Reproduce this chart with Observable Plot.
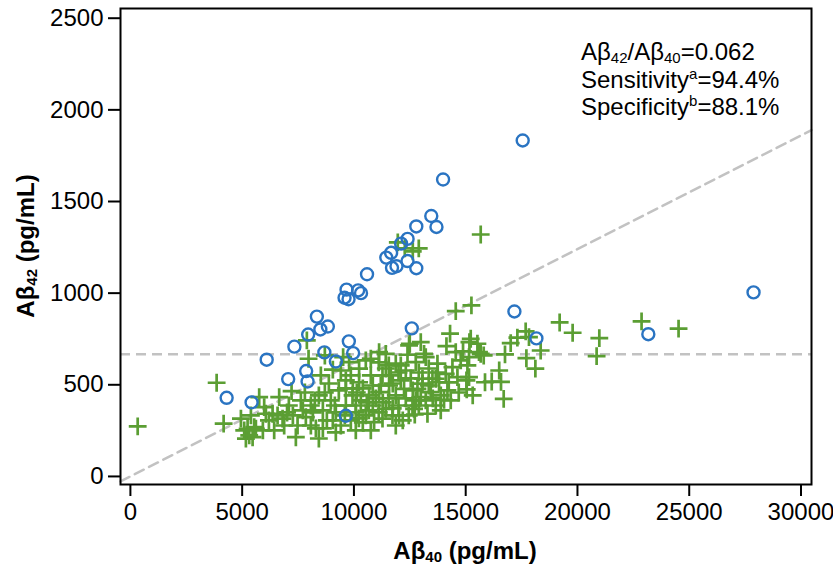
<!DOCTYPE html>
<html><head><meta charset="utf-8">
<script src="https://cdn.jsdelivr.net/npm/d3@7"></script>
<script src="https://cdn.jsdelivr.net/npm/@observablehq/plot@0.6"></script>
<style>
body{margin:0;background:#fff} svg{display:block}
g[aria-label="x-axis tick label"] text, g[aria-label="y-axis tick label"] text,
g[aria-label="x-axis tick label"], g[aria-label="y-axis tick label"]{font-size:24px !important;}
</style>
</head><body><div id="chart"></div>
<script>
// ---- data ----
const xTicks = [0, 5000, 10000, 15000, 20000, 25000, 30000];
const yTicks = [0, 500, 1000, 1500, 2000, 2500];
const ratioCutoff = 0.062;      // Aβ42/Aβ40 cut-off (diagonal)
const ab42Cutoff = 666;         // horizontal reference line
const sensitivity = 94.4;
const specificity = 88.1;

// circles: [Aβ40, Aβ42]
const groupCircle = [
  [13988,1620],[13460,1421],[13692,1361],[12790,1364],[12400,1296],[12110,1270],[11663,1220],[11448,1194],
  [12396,1175],[11904,1147],[11703,1138],[12790,1136],[10586,1103],[9669,1019],[9580,975],[9759,967],
  [10188,1015],[10317,1000],[8342,872],[8833,818],[8498,802],[7953,774],[7336,708],[6097,637],
  [9772,737],[9964,673],[8677,677],[9191,627],[7863,575],[7059,531],[7926,518],[4305,429],
  [5422,404],[9638,331],[12588,808],[17179,900],[18163,753],[23170,776],[27877,1004],[17550,1833]
];
// plus signs: [Aβ40, Aβ42]
const groupPlus = [
  [326,273],[3858,511],[4171,288],[4944,315],[5243,260],[5467,214],[5167,206],[5538,269],[5391,333],[5614,260],
  [5315,224],[5091,251],[5762,433],[5985,378],[6061,342],[6361,342],[6432,251],[6584,333],[6656,433],[6808,315],
  [6879,278],[7210,465],[7402,214],[7478,278],[7849,324],[7894,742],[7970,642],[8699,660],[9517,651],[11962,1277],
  [12275,1244],[12633,1228],[12901,1244],[15672,1320],[14555,902],[15256,933],[14300,779],[12467,715],[12990,733],[19203,840],
  [19784,784],[20978,755],[22868,846],[20857,656],[24523,806],[17683,791],[17312,757],[17013,727],[17831,760],[18354,687],
  [17715,645],[16758,666],[18117,588],[16499,578],[16700,423],[15864,514],[16164,518],[16580,516],[15033,524],[15046,475],
  [15806,660],[15524,724],[15167,733],[14881,682],[14139,711],[12498,724],[12396,664],[14331,415],[14031,418],[13289,342],
  [12690,369],[14407,596],[13736,615],[13660,533],[13137,669],[13066,533],[12842,478],[12990,433],[14183,469],[14630,542],
  [14778,633],[15149,651],[15672,669],[15225,751],[15596,678],[15077,606],[15149,542],[15314,442],[14555,678],[13213,651],
  [11126,678],[11425,669],[10755,642],[11872,615],[12320,578],[12766,624],[14107,560],[12766,415],[12619,387],[12020,333],
  [11425,369],[10902,296],[10531,333],[10084,387],[9937,442],[10232,514],[10755,551],[11278,551],[11573,496],[11126,460],
  [10679,442],[11872,442],[12243,478],[13066,506],[13513,533],[13808,514],[13437,460],[9785,624],[10232,588],[9861,551],
  [11725,333],[11278,315],
  [7626,415],[8073,387],[8431,442],[8610,360],[8967,415],[8789,306],[9190,349],[9414,278],[9638,387],[9324,469],
  [8878,507],[9638,524],[9414,578],[8297,262],[7715,360],[7089,387],[7268,333],[8073,278],[8431,207],[9190,240],
  [9861,306],[10084,251],[10397,295],[10755,251],[11112,349],[10308,415],[10844,387],[10397,480],[10979,426],[11559,426],
  [9951,480],[9056,583],[8520,551],[11994,387],[12320,426],[12453,333],[11872,278],[12901,387],[13213,415],[13660,387],
  [13884,442],[13347,496],[12543,535],[11994,567],[11559,606],[11112,622],[10531,633],[12096,524],[12633,469],[11738,507],
  [10844,496],[11291,404],[10665,360],[10084,349],
  [7805,458],[8252,415],[8699,458],[9146,387],[9593,333],[10129,458],[10576,404],[11202,496],[11738,371],[12185,306],
  [12722,338],[13526,426],[13884,360],[14242,513],[14689,458],[13750,567],[13347,589],[12901,567],[11649,551],[12096,606],
  [11425,589],[9638,480],[8163,349],[8610,262],[9056,306],[10219,317],[7009,349],[6196,306],[5926,251]
];

// ---- chart ----
const xDomain = [-443, 30470];
const yDomain = [-44, 2553];
const diag = xDomain.map(x => ({x, y: ratioCutoff * x}));
const blue = "#2a74c2", green = "#5b9e33", gray = "#c2c2c2";
const font = "'Liberation Sans', Arial, sans-serif";

const plot = Plot.plot({
  width: 833, height: 570,
  marginLeft: 120, marginRight: 22, marginTop: 8, marginBottom: 86,
  style: {fontFamily: font, fontSize: "24px", color: "#000", background: "#fff"},
  x: {domain: xDomain},
  y: {domain: yDomain},
  marks: [
    Plot.ruleY([ab42Cutoff], {stroke: gray, strokeWidth: 2.5, strokeDasharray: "10,6"}),
    Plot.line(diag, {x: "x", y: "y", stroke: gray, strokeWidth: 2.5, strokeDasharray: "10,6"}),
    Plot.dot(groupPlus, {x: d => d[0], y: d => d[1], symbol: "plus", r: 5.8, stroke: green, strokeWidth: 2.7}),
    Plot.dot(groupCircle, {x: d => d[0], y: d => d[1], symbol: "circle", r: 6, stroke: blue, strokeWidth: 2.4, fill: "none"}),
    Plot.axisX({ticks: xTicks, tickSize: 12, tickPadding: 6, strokeWidth: 2, tickFormat: d => String(d), label: null}),
    Plot.axisY({ticks: yTicks, tickSize: 12, tickPadding: 5, strokeWidth: 2, tickFormat: d => String(d), label: null}),
    Plot.frame({stroke: "#000", strokeWidth: 2})
  ]
});
document.getElementById("chart").appendChild(plot);

const svg = d3.select(plot);
function richText(g, parts) {
  for (const p of parts) {
    const t = g.append("tspan").text(p.t);
    if (p.sub) t.attr("font-size", 15).attr("dy", 3);
    if (p.sup) t.attr("font-size", 15).attr("dy", -9);
    if (p.back) t.attr("dy", p.back);
  }
}
// x title
const xt = svg.append("text").attr("x", 465).attr("y", 559).attr("text-anchor", "middle")
  .attr("font-weight", "bold").attr("font-size", 24).attr("font-family", font);
richText(xt, [{t: "Aβ"}, {t: "40", sub: true}, {t: " (pg/mL)", back: -3}]);
// y title
const yt = svg.append("text").attr("transform", "translate(34,246) rotate(-90)").attr("text-anchor", "middle")
  .attr("font-weight", "bold").attr("font-size", 24).attr("font-family", font);
richText(yt, [{t: "Aβ"}, {t: "42", sub: true}, {t: " (pg/mL)", back: -3}]);
// annotation
const ann = svg.append("g").attr("font-size", 24).attr("font-family", font).attr("text-anchor", "start");
richText(ann.append("text").attr("x", 581).attr("y", 60),
  [{t: "Aβ"}, {t: "42", sub: true}, {t: "/Aβ", back: -3}, {t: "40", sub: true}, {t: "=" + ratioCutoff.toFixed(3), back: -3}]);
richText(ann.append("text").attr("x", 581).attr("y", 88),
  [{t: "Sensitivity"}, {t: "a", sup: true}, {t: "=" + sensitivity.toFixed(1) + "%", back: 9}]);
richText(ann.append("text").attr("x", 581).attr("y", 115),
  [{t: "Specificity"}, {t: "b", sup: true}, {t: "=" + specificity.toFixed(1) + "%", back: 9}]);
</script>
</body></html>
